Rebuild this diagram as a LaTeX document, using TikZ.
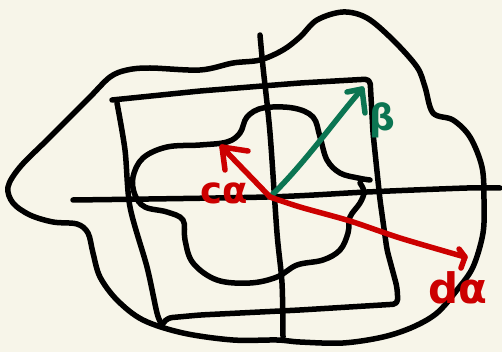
\documentclass[tikz,border=0pt]{standalone}
\usepackage{fontspec}
\setmainfont{DejaVu Sans}
\definecolor{paper}{HTML}{F7F5E9}
\definecolor{inkred}{HTML}{CC0000}
\definecolor{inkgreen}{HTML}{0B7552}
\tikzset{
  ink/.style={line width=5.5pt, line cap=round, line join=round},
  lbl/.style={inner sep=0pt, font=\bfseries},
}
\begin{document}
\begin{tikzpicture}[x=1pt,y=-1pt]
\fill[paper] (0,0) rectangle (502,352);
\useasboundingbox (0,0) rectangle (502,352);
% outer blob
\draw[ink] plot[smooth cycle, tension=0.55] coordinates {
 (343,12) (367,18) (393,40) (417,67) (425,87) (433,113) (453,120) (470,137)
 (482,167) (484,200) (483,233) (473,267) (457,290) (437,313) (413,327) (383,337)
 (343,343) (300,342) (277,340) (233,340) (183,333) (143,320) (117,300) (100,277)
 (93,253) (88,233) (77,224) (53,222) (30,215) (13,203) (8,187) (20,167)
 (47,140) (67,120) (90,97) (110,77) (127,70) (150,68) (200,70) (233,63)
 (260,60) (283,50) (300,37) (317,20)};
% square
\draw[ink, rounded corners=5pt] (112,100) -- (200,91) -- (300,83) -- (370,79)
  -- (373,133) -- (380,200) -- (387,250) -- (397,287) -- (398,304)
  -- (300,310) -- (200,315) -- (167,318) -- (162,325);
\draw[ink] plot[smooth, tension=0.5] coordinates {(117,103) (125,150) (130,207) (147,267) (157,313) (162,325)};
% inner blob
\draw[ink] plot[smooth, tension=0.6] coordinates {
 (370,180) (358,178) (340,173) (327,160) (320,137) (313,117) (293,108) (263,108)
 (247,117) (240,133) (227,142) (200,145) (167,147) (143,158) (133,177) (135,195)
 (145,207) (167,212) (183,220) (185,240) (193,263) (217,280) (250,283) (277,277)
 (297,265) (323,260) (340,250) (348,233) (350,217) (360,203) (364,192) (360,183)};
% axes
\coordinate (vt) at (260,35);
\coordinate (vb) at (283,337);
\coordinate (hl) at (73,200);
\coordinate (hr) at (500,188);
\draw[ink] plot[smooth, tension=0.5] coordinates {(vt) (263,67) (270,133) (277,233) (282,283) (vb)};
\draw[ink] plot[smooth, tension=0.5] coordinates {(hl) (267,197) (367,192) (467,188) (hr)};
% vectors
\coordinate (O) at (270,197);
\coordinate (ct) at (222,147);
\coordinate (bt) at (362,89);
\coordinate (dt) at (465,257);
\draw[ink, inkgreen] (O) .. controls (305,163) and (335,120) .. (bt);
\draw[ink, inkgreen] (347,92) -- (bt) -- (365,113);
\draw[ink, inkred] (O) .. controls (252,178) and (237,163) .. (ct);
\draw[ink, inkred] (248,151) -- (ct) -- (225,170);
\draw[ink, inkred] plot[smooth, tension=0.5] coordinates {(O) (300,207) (350,221) (400,238) (dt)};
\draw[ink, inkred] (459,249) -- (dt) -- (461,268);
% labels
\node[lbl, text=inkred, font=\bfseries\fontsize{37}{37}\selectfont] (ca) at (224,193) {cα};
\node[lbl, text=inkgreen, font=\bfseries\fontsize{36}{36}\selectfont] (beta) at (382,120) {β};
\node[lbl, text=inkred, font=\bfseries\fontsize{42}{42}\selectfont] (da) at (458,288) {dα};
\end{tikzpicture}
\end{document}
